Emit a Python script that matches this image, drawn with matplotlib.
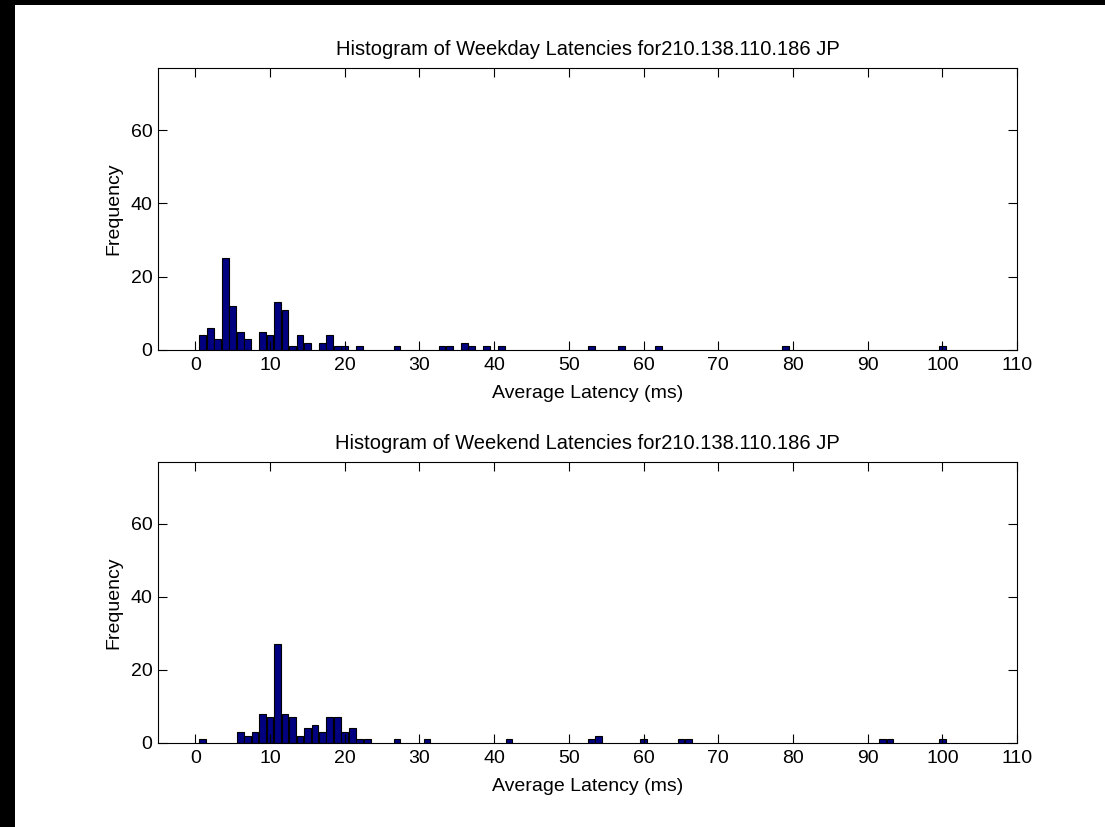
import matplotlib
matplotlib.use("Agg")
import matplotlib.pyplot as plt
from matplotlib.patches import Rectangle

# latency bins (ms) and counts
weekday_bins = [1, 2, 3, 4, 5, 6, 7, 9, 10, 11, 12, 13, 14, 15, 17, 18, 19, 20,
                22, 27, 33, 34, 36, 37, 39, 41, 53, 57, 62, 79, 100]
weekday_counts = [4, 6, 3, 25, 12, 5, 3, 5, 4, 13, 11, 1, 4, 2, 2, 4, 1, 1,
                  1, 1, 1, 1, 2, 1, 1, 1, 1, 1, 1, 1, 1]

weekend_bins = [1, 6, 7, 8, 9, 10, 11, 12, 13, 14, 15, 16, 17, 18, 19, 20, 21,
                22, 23, 27, 31, 42, 53, 54, 60, 65, 66, 92, 93, 100]
weekend_counts = [1, 3, 2, 3, 8, 7, 27, 8, 7, 2, 4, 5, 3, 7, 7, 3, 4,
                  1, 1, 1, 1, 1, 1, 2, 1, 1, 1, 1, 1, 1]

xticks = list(range(0, 111, 10))
yticks = [0, 20, 40, 60]
host = "210.138.110.186 JP"

plt.rcParams["font.family"] = ["Liberation Sans", "DejaVu Sans"]
plt.rcParams["font.size"] = 14

fig = plt.figure(figsize=(11.05, 8.27), dpi=100)
# black frame strips on the left and top, as in the screenshot
fig.patches.append(Rectangle((0, 0), 15 / 1105, 1, transform=fig.transFigure,
                             facecolor="black", edgecolor="none"))
fig.patches.append(Rectangle((0, 1 - 5 / 827), 1, 5 / 827, transform=fig.transFigure,
                             facecolor="black", edgecolor="none"))

panels = [
    ("Weekday", weekday_bins, weekday_counts, [0.143, 0.5768, 0.7774, 0.341]),
    ("Weekend", weekend_bins, weekend_counts, [0.143, 0.1016, 0.7774, 0.340]),
]

for name, bins, counts, rect in panels:
    ax = fig.add_axes(rect)
    ax.bar(bins, counts, width=0.9, color="#000080", edgecolor="black", linewidth=0.8)
    ax.set_xlim(-5, 110)
    ax.set_ylim(0, 77)
    ax.set_xticks(xticks)
    ax.set_yticks(yticks)
    ax.tick_params(direction="in", length=6.5, width=0.8, top=True, right=True,
                   labelsize=14)
    ax.tick_params(axis="x", pad=5)
    ax.tick_params(axis="y", pad=4)
    for s in ax.spines.values():
        s.set_linewidth(0.8)
    ax.set_title(f"Histogram of {name} Latencies for{host}", fontsize=14.5, pad=9)
    ax.set_xlabel("Average Latency (ms)", labelpad=8)
    ax.set_ylabel("Frequency", labelpad=6)

fig.savefig("out.png", dpi=100)
